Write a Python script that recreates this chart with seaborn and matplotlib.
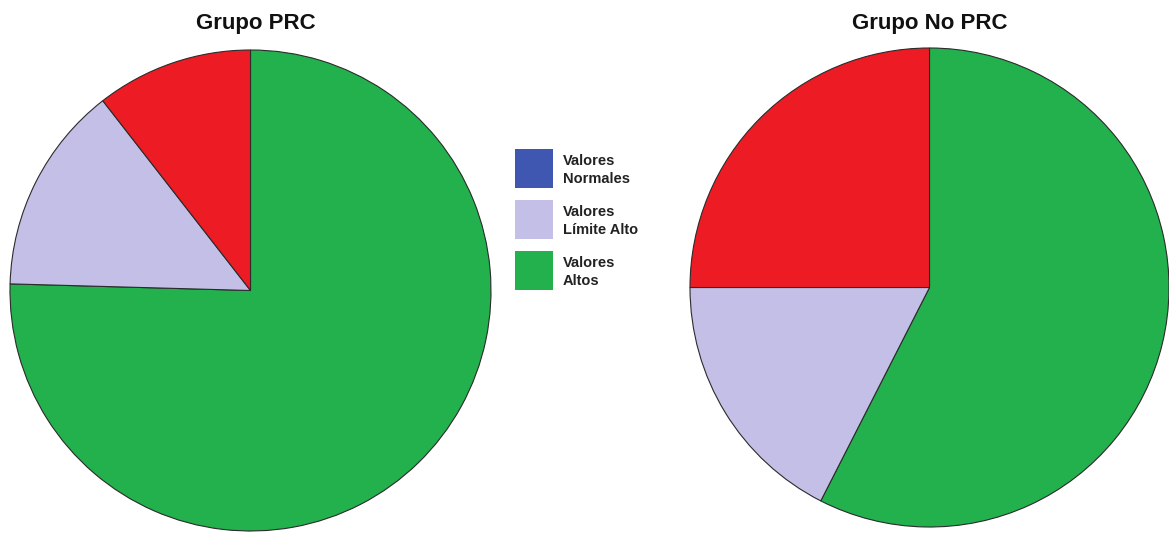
import matplotlib
matplotlib.use("Agg")
import matplotlib.pyplot as plt
from matplotlib.patches import Rectangle
import seaborn as sns

# Category names, colours and patient counts per group
categorias = ["Valores Normales", "Valores Límite Alto", "Valores Altos", "Valores Muy Altos"]
leyenda = ["Valores\nNormales", "Valores\nLímite Alto", "Valores\nAltos"]
colores = ["#3F57B0", "#C4BFE6", "#22B14C", "#ED1C24"]

grupo_prc = [0, 8, 43, 6]
grupo_no_prc = [0, 7, 23, 10]

titulos = ["Grupo PRC", "Grupo No PRC"]

sns.set_theme(style="white")
plt.rcParams["font.family"] = ["Liberation Sans", "DejaVu Sans"]

W, H = 1169, 534
fig = plt.figure(figsize=(W / 100, H / 100), dpi=100)

# clockwise order starting at 12 o'clock: Altos, Límite Alto, Muy Altos
orden = [2, 1, 3]


def dibujar(center, radius, valores, titulo, title_x):
    cx, cy = center
    ax = fig.add_axes([(cx - radius) / W, (H - cy - radius) / H,
                       2 * radius / W, 2 * radius / H])
    vals = [valores[i] for i in orden if valores[i] > 0]
    cols = [colores[i] for i in orden if valores[i] > 0]
    ax.pie(vals, colors=cols, startangle=90, counterclock=False, radius=1,
           wedgeprops=dict(edgecolor="#2b2b2b", linewidth=0.8))
    ax.set_xlim(-1.0, 1.0)
    ax.set_ylim(-1.0, 1.0)
    ax.set_aspect("equal")
    ax.axis("off")
    fig.text(title_x / W, 1 - 23 / H, titulo, ha="center", va="center",
             fontsize=16, fontweight="bold", color="#111111")


dibujar((250.5, 290.5), 240.5, grupo_prc, titulos[0], 256)
dibujar((929.5, 287.5), 239.5, grupo_no_prc, titulos[1], 930)

# legend
for k, (lab, col) in enumerate(zip(leyenda, colores[:3])):
    top = 149 + k * 51
    fig.add_artist(Rectangle((515 / W, 1 - (top + 39) / H), 38 / W, 39 / H,
                             transform=fig.transFigure, facecolor=col,
                             edgecolor="none"))
    fig.text(563 / W, 1 - (top + 21) / H, lab, ha="left", va="center",
             fontsize=10.5, fontweight="bold", color="#222222", linespacing=1.45)

fig.savefig("out.png", dpi=100, facecolor="white")
